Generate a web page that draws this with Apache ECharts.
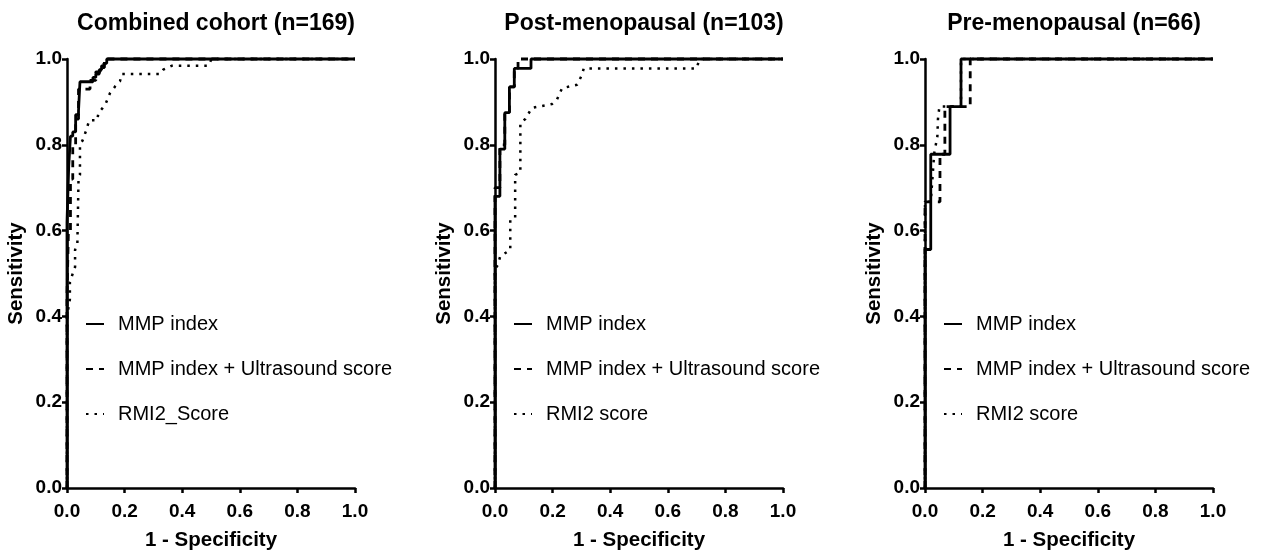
<!DOCTYPE html>
<html>
<head>
<meta charset="utf-8">
<script src="https://cdn.jsdelivr.net/npm/echarts@6/dist/echarts.min.js"></script>
<style>
  html, body { margin: 0; padding: 0; background: #fff; }
  #chart { width: 1280px; height: 556px; }
</style>
</head>
<body>
<div id="chart"></div>
<script>
// ROC curves: [1 - specificity, sensitivity]
const panelTitles = ['Combined cohort (n=169)', 'Post-menopausal (n=103)', 'Pre-menopausal (n=66)'];
const seriesNames = ['MMP index', 'MMP index + Ultrasound score'];
const rmiNames = ['RMI2_Score', 'RMI2 score', 'RMI2 score'];

const combinedMmp = [[0,0],[0,0.62],[0.006,0.62],[0.006,0.75],[0.012,0.75],[0.012,0.82],[0.02,0.82],[0.02,0.83],[0.03,0.83],[0.03,0.87],[0.04,0.87],[0.04,0.88],[0.045,0.88],[0.045,0.947],[0.09,0.947],[0.09,0.957],[0.1,0.957],[0.1,0.965],[0.112,0.965],[0.112,0.975],[0.12,0.975],[0.12,0.984],[0.128,0.984],[0.128,0.99],[0.138,0.99],[0.138,1],[1,1]];
const combinedMmpUs = [[0,0],[0,0.45],[0.005,0.45],[0.005,0.6],[0.012,0.6],[0.012,0.72],[0.02,0.72],[0.02,0.8],[0.03,0.8],[0.03,0.86],[0.04,0.86],[0.04,0.93],[0.08,0.93],[0.08,0.95],[0.1,0.95],[0.1,0.97],[0.115,0.97],[0.115,0.98],[0.13,0.98],[0.13,1],[1,1]];
const combinedRmi = [[0,0],[0,0.4],[0.01,0.44],[0.01,0.48],[0.02,0.5],[0.028,0.515],[0.028,0.555],[0.036,0.57],[0.04,0.72],[0.045,0.73],[0.045,0.8],[0.054,0.81],[0.068,0.836],[0.077,0.857],[0.105,0.857],[0.109,0.874],[0.124,0.886],[0.135,0.897],[0.149,0.92],[0.167,0.936],[0.184,0.948],[0.19,0.965],[0.323,0.965],[0.334,0.975],[0.363,0.984],[0.49,0.984],[0.502,1],[1,1]];

const postMmp = [[0,0],[0,0.68],[0.017,0.68],[0.017,0.79],[0.034,0.79],[0.034,0.875],[0.05,0.875],[0.05,0.935],[0.067,0.935],[0.067,0.978],[0.125,0.978],[0.125,1],[1,1]];
const postMmpUs = [[0,0],[0,0.7],[0.017,0.7],[0.017,0.8],[0.034,0.8],[0.034,0.875],[0.05,0.875],[0.05,0.935],[0.067,0.935],[0.067,0.978],[0.08,0.978],[0.08,1],[1,1]];
const postRmi = [[0,0],[0,0.51],[0.01,0.52],[0.018,0.54],[0.053,0.555],[0.053,0.625],[0.07,0.63],[0.07,0.73],[0.088,0.735],[0.088,0.85],[0.105,0.86],[0.128,0.886],[0.198,0.895],[0.215,0.905],[0.233,0.932],[0.285,0.94],[0.302,0.963],[0.308,0.978],[0.7,0.978],[0.71,1],[1,1]];

const preMmp = [[0,0],[0,0.556],[0.02,0.556],[0.02,0.778],[0.087,0.778],[0.087,0.889],[0.125,0.889],[0.125,1],[1,1]];
const preMmpUs = [[0,0],[0,0.667],[0.052,0.667],[0.052,0.778],[0.069,0.778],[0.069,0.889],[0.157,0.889],[0.157,1],[1,1]];
const preRmi = [[0,0],[0,0.667],[0.02,0.667],[0.032,0.78],[0.043,0.82],[0.045,0.86],[0.05,0.889],[0.125,0.889],[0.125,1],[1,1]];

const panelData = [
  [combinedMmp, combinedMmpUs, combinedRmi],
  [postMmp, postMmpUs, postRmi],
  [preMmp, preMmpUs, preRmi]
];

const FONT = 'Arial, "Liberation Sans", sans-serif';
const gridLefts = [67, 495, 925];
const plotW = 288, plotH = 432, plotTop = 59;

const chart = echarts.init(document.getElementById('chart'));

const grids = [], xAxes = [], yAxes = [], titles = [], legends = [], series = [];

gridLefts.forEach((left, i) => {
  grids.push({ left: left, top: plotTop, width: plotW, height: plotH });
  titles.push({
    text: panelTitles[i],
    left: left + plotW / 2,
    top: 7,
    textAlign: 'center',
    textStyle: { fontFamily: FONT, fontWeight: 'bold', fontSize: 23, color: '#000' }
  });
  const axisCommon = {
    type: 'value',
    gridIndex: i,
    min: 0,
    max: 1,
    interval: 0.2,
    splitLine: { show: false },
    axisLine: { show: true, onZero: false, lineStyle: { color: '#000', width: 2.5 } },
    axisTick: { show: true, length: 5, lineStyle: { color: '#000', width: 2.5 } },
    nameTextStyle: { fontFamily: FONT, fontWeight: 'bold', fontSize: 20.5, color: '#000' },
    nameLocation: 'middle'
  };
  xAxes.push(Object.assign({}, axisCommon, {
    name: '1 - Specificity',
    nameGap: 42,
    axisLabel: { color: '#000', fontFamily: FONT, fontWeight: 'bold', fontSize: 19, margin: 14,
      formatter: v => v.toFixed(1) }
  }));
  yAxes.push(Object.assign({}, axisCommon, {
    name: 'Sensitivity',
    nameGap: 40,
    nameRotate: 90,
    axisLabel: { color: '#000', fontFamily: FONT, fontWeight: 'bold', fontSize: 19, margin: 5,
      formatter: v => v.toFixed(1) }
  }));

  const [mmp, mmpUs, rmi] = panelData[i];
  const base = {
    type: 'line',
    xAxisIndex: i,
    yAxisIndex: i,
    showSymbol: false,
    symbol: 'none',
    color: '#000',
    itemStyle: { color: '#000' },
    clip: false,
    silent: true,
    animation: false
  };
  // dotted first, solid on top
  series.push(Object.assign({}, base, {
    name: rmiNames[i], data: rmi, z: 2,
    lineStyle: { color: '#000', width: 2.5, type: [2.5, 6] }
  }));
  series.push(Object.assign({}, base, {
    name: seriesNames[1], data: mmpUs, z: 3,
    lineStyle: { color: '#000', width: 2.8, type: [7, 6] }
  }));
  series.push(Object.assign({}, base, {
    name: seriesNames[0], data: mmp, z: 4,
    lineStyle: { color: '#000', width: 2.8 }
  }));

  legends.push({
    orient: 'vertical',
    left: left + 13,
    top: 309,
    itemWidth: 18,
    itemHeight: 14,
    itemGap: 25,
    selectedMode: false,
    itemStyle: { opacity: 0, borderWidth: 0 },
    data: [seriesNames[0], seriesNames[1], rmiNames[i]],
    textStyle: { fontFamily: FONT, fontSize: 20, color: '#000', lineHeight: 20, padding: [0, 0, 0, 9] }
  });
});

chart.setOption({
  backgroundColor: '#fff',
  animation: false,
  title: titles,
  legend: legends,
  grid: grids,
  xAxis: xAxes,
  yAxis: yAxes,
  series: series
});
</script>
</body>
</html>
